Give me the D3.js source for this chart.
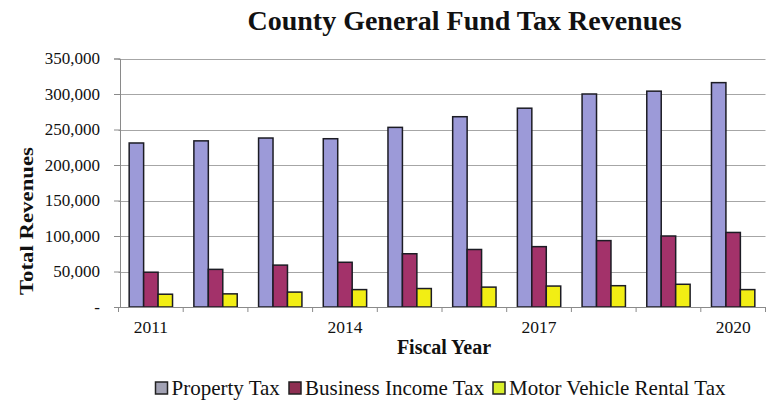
<!DOCTYPE html>
<html>
<head>
<meta charset="utf-8">
<script src="https://cdn.jsdelivr.net/npm/d3@7"></script>
<style>
  html, body { margin: 0; padding: 0; background: #ffffff; }
  svg { display: block; }
  text { font-family: "Liberation Serif", "Times New Roman", serif; fill: #111; }
</style>
</head>
<body>
<svg id="chart" width="767" height="400"></svg>
<script>
// Fiscal years shown on the category axis
const years = ["2011", "2012", "2013", "2014", "2015", "2016", "2017", "2018", "2019", "2020"];
// Only every third year carries a label
const yearLabels = ["2011", "2014", "2017", "2020"];

// Revenue by source, in dollars
const propertyTax = [231000, 234000, 238000, 237000, 253000, 268000, 280000, 300000, 304000, 316000];
const businessIncomeTax = [49000, 53000, 59000, 63000, 75000, 81000, 85000, 93500, 100000, 105000];
const motorVehicleRentalTax = [18000, 18500, 21000, 24500, 26000, 28000, 29500, 30000, 32000, 24500];

const seriesNames = ["Property Tax", "Business Income Tax", "Motor Vehicle Rental Tax"];
const seriesValues = [propertyTax, businessIncomeTax, motorVehicleRentalTax];
const yTicks = [0, 50000, 100000, 150000, 200000, 250000, 300000, 350000];

const barColors = ["#9c9ad8", "#a3326a", "#f2ee14"];
const swatchColors = ["#a2a2b4", "#8e2f52", "#d9ef2a"];

const svg = d3.select("#chart");

const plot = { left: 118.5, right: 765.5, top: 58.5, bottom: 307 };

const x0 = d3.scaleBand()
  .domain(years)
  .range([plot.left, plot.right])
  .paddingInner(0.33)
  .paddingOuter(0.165);

const x1 = d3.scaleBand()
  .domain(seriesNames)
  .range([0, x0.bandwidth()]);

const y = d3.scaleLinear()
  .domain([0, 350000])
  .range([plot.bottom, plot.top]);

// Horizontal gridlines
svg.append("g")
  .selectAll("line")
  .data(yTicks.filter(d => d > 0))
  .join("line")
  .attr("x1", plot.left)
  .attr("x2", plot.right)
  .attr("y1", d => Math.round(y(d)) + 0.5)
  .attr("y2", d => Math.round(y(d)) + 0.5)
  .attr("stroke", "#a6a6a6")
  .attr("stroke-width", 1);

// Y axis with thousands-separated labels; zero shown as a dash
const yAxis = d3.axisLeft(y)
  .tickValues(yTicks)
  .tickSize(6)
  .tickPadding(14)
  .tickFormat(d => d === 0 ? "-" : d3.format(",")(d));

const gy = svg.append("g")
  .attr("transform", `translate(${plot.left + 1.5},0)`)
  .call(yAxis);
gy.select(".domain").attr("stroke", "#8a8a8a");
gy.selectAll(".tick line").attr("stroke", "#8a8a8a");
gy.selectAll(".tick text")
  .style("font-family", "'Liberation Serif', serif")
  .style("font-size", "17px")
  .attr("fill", "#1a1a1a");

// Bars, grouped by year
const groups = svg.append("g")
  .selectAll("g")
  .data(years)
  .join("g")
  .attr("transform", d => `translate(${x0(d)},0)`);

groups.selectAll("rect")
  .data((yr, i) => seriesNames.map((s, j) => ({ s, j, v: seriesValues[j][i] })))
  .join("rect")
  .attr("x", d => x1(d.s))
  .attr("y", d => y(d.v))
  .attr("width", x1.bandwidth())
  .attr("height", d => plot.bottom - y(d.v))
  .attr("fill", d => barColors[d.j])
  .attr("stroke", "#1c1c24")
  .attr("stroke-width", 1.5);

// Category axis: baseline, ticks between categories, sparse labels
const gx = svg.append("g");
gx.append("line")
  .attr("x1", plot.left).attr("x2", plot.right)
  .attr("y1", plot.bottom + 0.5).attr("y2", plot.bottom + 0.5)
  .attr("stroke", "#8a8a8a");

const step = x0.step();
gx.selectAll("line.tick")
  .data(d3.range(years.length + 1))
  .join("line")
  .attr("class", "tick")
  .attr("x1", k => plot.left + k * step)
  .attr("x2", k => plot.left + k * step)
  .attr("y1", plot.bottom)
  .attr("y2", plot.bottom + 5)
  .attr("stroke", "#8a8a8a");

gx.selectAll("text")
  .data(yearLabels)
  .join("text")
  .attr("x", d => x0(d) + x0.bandwidth() / 2)
  .attr("y", 333)
  .attr("text-anchor", "middle")
  .style("font-size", "17.5px")
  .text(d => d);

// Titles
svg.append("text")
  .attr("x", 464.5)
  .attr("y", 30)
  .attr("text-anchor", "middle")
  .style("font-size", "28px")
  .style("font-weight", "bold")
  .text("County General Fund Tax Revenues");

svg.append("text")
  .attr("x", 444)
  .attr("y", 354)
  .attr("text-anchor", "middle")
  .style("font-size", "20px")
  .style("font-weight", "bold")
  .text("Fiscal Year");

svg.append("text")
  .attr("transform", "translate(33,221) rotate(-90)")
  .attr("text-anchor", "middle")
  .attr("textLength", 148)
  .attr("lengthAdjust", "spacingAndGlyphs")
  .style("font-size", "19.5px")
  .style("font-weight", "bold")
  .text("Total Revenues");

// Legend
const legendX = [155.5, 289, 493];
const legend = svg.append("g");
seriesNames.forEach((name, i) => {
  legend.append("rect")
    .attr("x", legendX[i])
    .attr("y", 382)
    .attr("width", 12)
    .attr("height", 12)
    .attr("fill", swatchColors[i])
    .attr("stroke", "#222")
    .attr("stroke-width", 1.5);
  legend.append("text")
    .attr("x", legendX[i] + 16)
    .attr("y", 395)
    .style("font-size", "21px")
    .attr("fill", "#222")
    .text(name);
});
</script>
</body>
</html>
